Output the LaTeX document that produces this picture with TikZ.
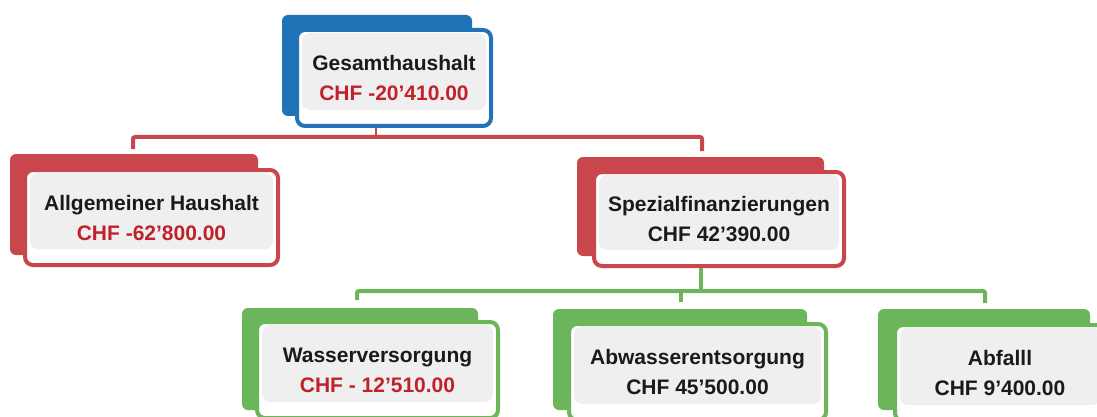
\documentclass[tikz,border=0pt]{standalone}
\usepackage{fontspec}
\setmainfont{Liberation Sans}
\definecolor{gblue}{HTML}{2073B6}
\definecolor{bred}{HTML}{C9464D}
\definecolor{bgreen}{HTML}{6BB55A}
\definecolor{valred}{HTML}{C0222B}
\definecolor{txt}{HTML}{1A1A1A}
\definecolor{inner}{HTML}{EFEFEF}
\begin{document}
\begin{tikzpicture}[x=1pt,y=-1pt,
  frontbox/.style={draw=#1, line width=4pt, rounded corners=8pt, fill=white,
    align=center, inner sep=0pt, text=txt,
    font=\fontsize{21}{30}\selectfont\bfseries,
    path picture={\fill[inner] ([shift={(5,3)}]path picture bounding box.north west)
      rectangle ([shift={(-5,-16)}]path picture bounding box.south east);}},
  backbox/.style={fill=#1, rounded corners=6pt},
  redline/.style={draw=bred, line width=4pt, rounded corners=2pt},
  greenline/.style={draw=bgreen, line width=4pt, rounded corners=2pt}]
\useasboundingbox (0,0) rectangle (1097,417);
\clip (0,0) rectangle (1097,417);

% back boxes
\fill[backbox=gblue] (282,15) rectangle (472,116);
\fill[backbox=bred] (10,154) rectangle (258,255);
\fill[backbox=bred] (577,157) rectangle (824,256);
\fill[backbox=bgreen] (242,308) rectangle (478,410);
\fill[backbox=bgreen] (553,309) rectangle (807,410);
\fill[backbox=bgreen] (878,309) rectangle (1090,410);

% front boxes
\node[frontbox=gblue, minimum width=194pt, minimum height=96pt] (gesamt) at (394,78)
  {Gesamthaushalt\\\textcolor{valred}{CHF -20'410.00}};
\node[frontbox=bred, minimum width=253pt, minimum height=95pt] (allg) at (151.5,217.5)
  {Allgemeiner Haushalt\\\textcolor{valred}{CHF -62'800.00}};
\node[frontbox=bred, minimum width=250pt, minimum height=94pt] (spez) at (719,219)
  {Spezialfinanzierungen\\CHF 42'390.00};
\node[frontbox=bgreen, minimum width=241pt, minimum height=96pt] (wasser) at (377.5,370)
  {Wasserversorgung\\\textcolor{valred}{CHF - 12'510.00}};
\node[frontbox=bgreen, minimum width=257pt, minimum height=96pt] (abw) at (697.5,372)
  {Abwasserentsorgung\\CHF 45'500.00};
\node[frontbox=bgreen, minimum width=210pt, minimum height=96pt] (abf) at (1000,373)
  {Abfalll\\CHF 9'400.00};

% red connectors
\coordinate (gstub) at (376,137);
\coordinate (rL) at (133,149);
\coordinate (rR) at (702,151);
\draw[redline, line width=2pt] (gesamt.south -| gstub) -- (gstub);
\draw[redline] (rL) |- (gstub) -| (rR);

% green connectors
\coordinate (gbus) at (701,291);
\coordinate (gL) at (357,300);
\coordinate (gM) at (681,302);
\coordinate (gR) at (985,303);
\draw[greenline] (spez.south -| gbus) -- (gbus);
\draw[greenline] (gL) |- (gbus) -| (gR);
\draw[greenline] (gM) -- (gM |- gbus);
\end{tikzpicture}
\end{document}
